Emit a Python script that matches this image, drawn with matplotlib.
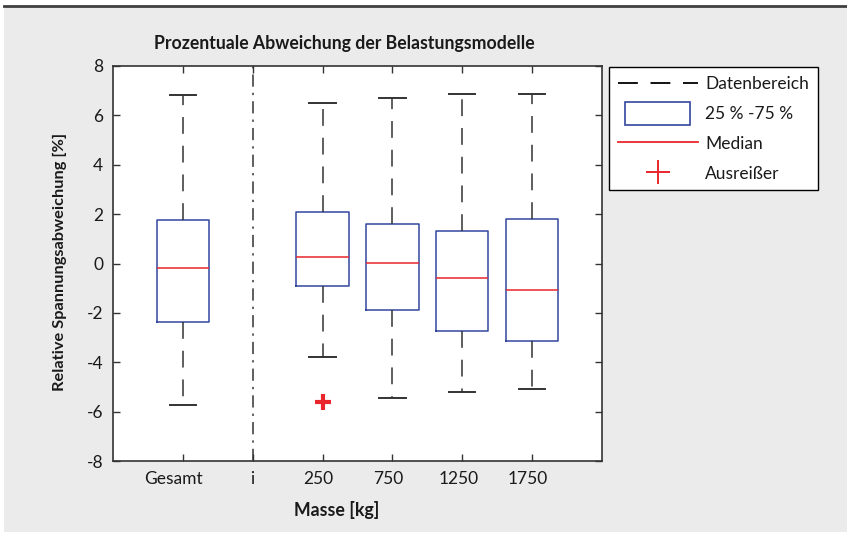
import matplotlib.pyplot as plt
from matplotlib.lines import Line2D
from matplotlib.patches import Rectangle
from matplotlib.legend_handler import HandlerPatch
from matplotlib.transforms import ScaledTranslation

# Box statistics (relative stress deviation in %)
labels = ['Gesamt', 'i', '250', '750', '1250', '1750']
box_names = ['Gesamt', '250', '750', '1250', '1750']
box_pos = [1, 3, 4, 5, 6]
whis_hi = [6.83, 6.51, 6.70, 6.85, 6.85]
q3 = [1.76, 2.07, 1.59, 1.33, 1.81]
med = [-0.17, 0.25, 0.03, -0.57, -1.07]
q1 = [-2.38, -0.92, -1.89, -2.72, -3.14]
whis_lo = [-5.74, -3.80, -5.45, -5.19, -5.08]
fliers = [[], [-5.6], [], [], []]

BLUE = '#3346a0'
RED = '#e8262c'
DARK = '#333333'
TXT = '#1a1a1a'

plt.rcParams['font.family'] = ['Lato', 'DejaVu Sans']
plt.rcParams['axes.unicode_minus'] = False

fig = plt.figure(figsize=(8.47, 5.33), dpi=100, facecolor='white')
W, H = 847, 533

# grey panel and top rule like the original print layout
bg = Rectangle((4 / W, 1 / H), 1 - 4 / W, (532 - 6) / H,
               transform=fig.transFigure, facecolor='#ebebeb',
               edgecolor='none', zorder=-10)
fig.patches.append(bg)
fig.lines.append(Line2D([4 / W, 1], [1 - 5.5 / H, 1 - 5.5 / H],
                        transform=fig.transFigure, color='#404040', lw=2,
                        zorder=-5))

ax = fig.add_axes([113 / W, (H - 461) / H, (602 - 113) / W, (461 - 66) / H])
ax.set_facecolor('white')

stats = []
for i, name in enumerate(box_names):
    stats.append(dict(label=name, med=med[i], q1=q1[i], q3=q3[i],
                      whislo=whis_lo[i], whishi=whis_hi[i], fliers=[]))

ax.bxp(stats, positions=box_pos, widths=0.75, capwidths=0.375,
       boxprops=dict(color=BLUE, lw=1.1),
       medianprops=dict(color=RED, lw=1.1),
       whiskerprops=dict(color=DARK, lw=1.1, linestyle=(0, (11, 7.8))),
       capprops=dict(color=DARK, lw=1.4),
       manage_ticks=False)

# outliers as thick red plus signs
for i, vals in enumerate(fliers):
    if vals:
        ax.plot([box_pos[i]] * len(vals), vals, linestyle='none', marker='+',
                markersize=12, markeredgewidth=3, color=RED)

# separator between overall and per-mass boxes
ax.axvline(2, color=DARK, lw=1.1, linestyle=(0, (8, 4, 1.5, 4)))

ax.set_xlim(0, 7)
ax.set_ylim(-8, 8)
ax.set_xticks(range(1, 7))
ax.set_xticklabels(labels)
ax.set_yticks(range(-8, 9, 2))
ax.tick_params(direction='in', length=5, width=1, colors=DARK, labelcolor=TXT,
               labelsize=12.5, top=True, right=True, pad=7)
for sp in ax.spines.values():
    sp.set_color(DARK)
    sp.set_linewidth(1.2)

# the original tick labels sit slightly left of their ticks
shifts = [-9, -1, -4, -4, -4, -4]
for lab, dx in zip(ax.get_xticklabels(), shifts):
    lab.set_transform(lab.get_transform() +
                      ScaledTranslation(dx / 100, 0, fig.dpi_scale_trans))

fig.text(344 / W, 1 - 49 / H, 'Prozentuale Abweichung der Belastungsmodelle',
         ha='center', va='baseline', fontsize=12.7, fontweight='bold',
         color=TXT)
fig.text(337 / W, 1 - 516 / H, 'Masse [kg]', ha='center', va='baseline',
         fontsize=12.8, fontweight='bold', color=TXT)
fig.text(60 / W, 1 - 262 / H, 'Relative Spannungsabweichung [%]', ha='center',
         va='center', rotation=90, fontsize=11.8, fontweight='bold',
         color=TXT)


def box_handle(legend, orig_handle, xdescent, ydescent, width, height, fontsize):
    return Rectangle((-xdescent + 0.09 * width, -ydescent - 0.25 * height),
                     0.82 * width, 1.5 * height)


handles = [
    Line2D([], [], color='black', lw=1.3, linestyle=(0, (11, 7))),
    Rectangle((0, 0), 1, 1, facecolor='white', edgecolor=BLUE, lw=1.2),
    Line2D([], [], color=RED, lw=1.3),
    Line2D([], [], color=RED, linestyle='none', marker='+', markersize=17,
           markeredgewidth=1.4),
]
leg = fig.legend(handles, ['Datenbereich', '25 % -75 %', 'Median', 'Ausreißer'],
                 loc='upper left', bbox_to_anchor=(609 / W, 1 - 67 / H),
                 fontsize=12.5, frameon=True, fancybox=False, framealpha=1,
                 edgecolor='black', handlelength=4.6, handleheight=1.0,
                 handletextpad=0.45, labelspacing=0.75, borderpad=0.5,
                 borderaxespad=0,
                 handler_map={Rectangle: HandlerPatch(patch_func=box_handle)})
leg.get_frame().set_linewidth(1.0)
for t in leg.get_texts():
    t.set_color(TXT)

fig.savefig('out.png', dpi=100, facecolor='white')
